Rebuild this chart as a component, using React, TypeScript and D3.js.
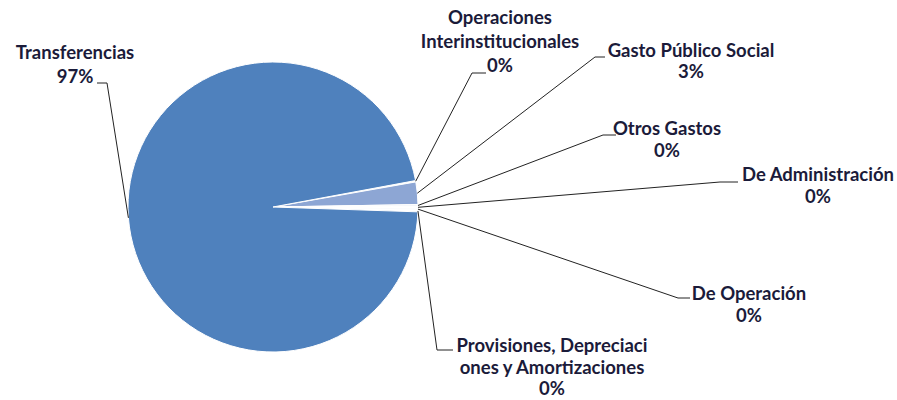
import { useRef, useEffect } from "react";
import * as d3 from "d3";

// slice order, clockwise
const categories = [
  "Operaciones Interinstitucionales",
  "Gasto Público Social",
  "Otros Gastos",
  "De Administración",
  "De Operación",
  "Provisiones, Depreciaciones y Amortizaciones",
  "Transferencias",
];
const values = [0.15, 2.5, 0.2, 0.2, 0.2, 0.2, 96.55];
const percentLabels = ["0%", "3%", "0%", "0%", "0%", "0%", "97%"];
const colors = ["#FFFFFF", "#8DA6D4", "#F2F5FA", "#FFFFFF", "#F7F9FC", "#FFFFFF", "#4F81BD"];

// label text lines (as wrapped in the chart)
const labelLines = [
  ["Operaciones", "Interinstitucionales"],
  ["Gasto Público Social"],
  ["Otros Gastos"],
  ["De Administración"],
  ["De Operación"],
  ["Provisiones, Depreciaci", "ones y Amortizaciones"],
  ["Transferencias"],
];

// label layout: x center, first baseline, line gap, elbow and end of leader line
const labelLayout = [
  { x: 500, y: 24, gap: 24, elbow: [472, 73], end: [486, 73] },
  { x: 691, y: 57, gap: 21, elbow: [595, 57], end: [605, 57] },
  { x: 667, y: 135, gap: 22, elbow: [603, 135], end: [616, 135] },
  { x: 818, y: 181, gap: 22, elbow: [720, 182], end: [738, 182] },
  { x: 749, y: 300, gap: 22, elbow: [678, 298], end: [690, 298] },
  { x: 552, y: 352, gap: 21.5, elbow: [437, 350], end: [453, 350] },
  { x: 75, y: 59, gap: 24, elbow: [107, 83], end: [97, 83] },
];

export default function App() {
  const svgRef = useRef<SVGSVGElement>(null);

  useEffect(() => {
    document.body.style.margin = "0";
    const w = 897;
    const h = 400;
    const cx = 273;
    const cy = 207;
    const r = 145;

    const svg = d3.select(svgRef.current).attr("width", w).attr("height", h);
    svg.selectAll("*").remove();

    const start = (79.5 * Math.PI) / 180;
    const pie = d3
      .pie<number>()
      .sort(null)
      .value((d) => d)
      .startAngle(start)
      .endAngle(start + 2 * Math.PI);
    const arcs = pie(values);
    const arc = d3.arc<d3.PieArcDatum<number>>().innerRadius(0).outerRadius(r);

    const g = svg.append("g").attr("transform", `translate(${cx},${cy})`);
    g.selectAll("path")
      .data(arcs)
      .join("path")
      .attr("d", arc)
      .attr("fill", (d, i) => colors[i])
      .attr("stroke", "#fff")
      .attr("stroke-width", 1);

    // leader lines
    const edge = d3.arc<d3.PieArcDatum<number>>().innerRadius(r).outerRadius(r);
    svg
      .selectAll(".leader")
      .data(arcs)
      .join("polyline")
      .attr("class", "leader")
      .attr("fill", "none")
      .attr("stroke", "#222")
      .attr("stroke-width", 1)
      .attr("points", (d, i) => {
        const [px, py] = edge.centroid(d);
        const L = labelLayout[i];
        return [[cx + px, cy + py], L.elbow, L.end].map((p) => p.join(",")).join(" ");
      });

    // labels
    const labels = svg
      .selectAll(".label")
      .data(arcs)
      .join("text")
      .attr("class", "label")
      .attr("text-anchor", "middle")
      .attr("font-family", "Lato, 'Open Sans', sans-serif")
      .attr("font-weight", 700)
      .attr("font-size", 18.5)
      .attr("fill", "#1b1b3a");
    labels.each(function (d, i) {
      const t = d3.select(this);
      const L = labelLayout[i];
      const lines = [...labelLines[i], percentLabels[i]];
      lines.forEach((line, j) => {
        t.append("tspan").attr("x", L.x).attr("y", L.y + j * L.gap).text(line);
      });
    });
  }, []);

  return <svg ref={svgRef}></svg>;
}
